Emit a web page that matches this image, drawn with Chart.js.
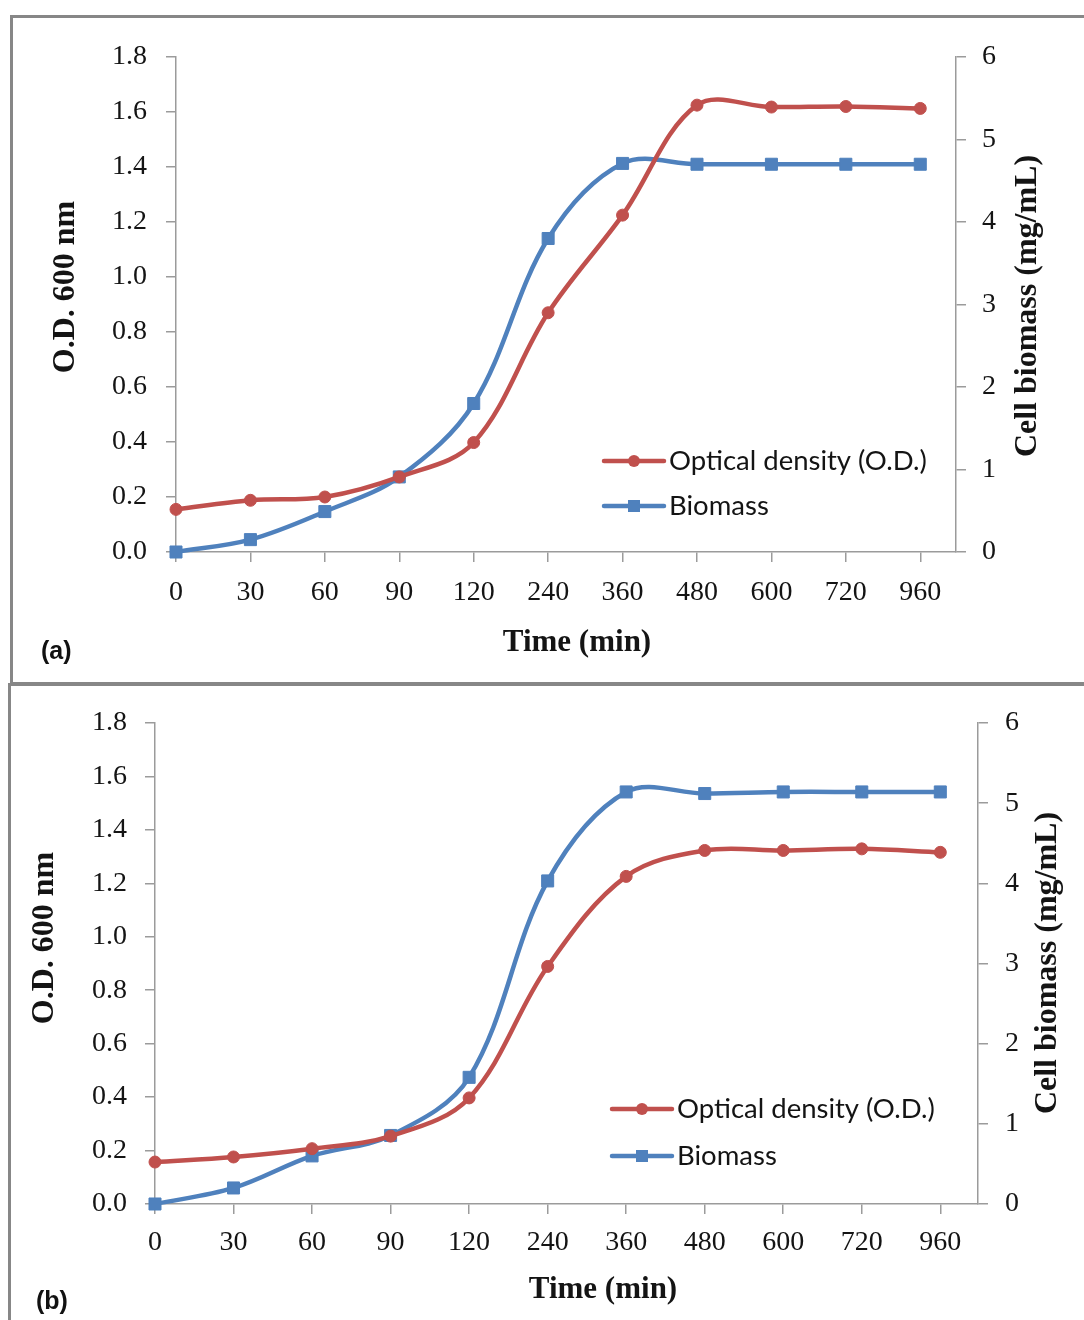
<!DOCTYPE html>
<html>
<head>
<meta charset="utf-8">
<script src="https://cdn.jsdelivr.net/npm/chart.js@4.4.1/dist/chart.umd.min.js"></script>
<style>
  body { margin:0; width:1084px; height:1320px; overflow:hidden; background:#fff; position:relative; }
  .frame { position:absolute; border:3px solid #878787; box-sizing:border-box; }
  #frameA { left:10px; top:15px; width:1100px; height:670px; }
  #frameB { left:8px; top:683px; width:1100px; height:680px; }
  .wrap { position:absolute; left:0; width:1084px; }
  #wrapA { top:0; height:683px; }
  #wrapB { top:683px; height:637px; }
  .tag { position:absolute; height:30px; line-height:30px; font-family:"Liberation Sans", sans-serif; font-weight:bold; font-size:25px; color:#111; }
</style>
</head>
<body>
<div class="frame" id="frameA"></div>
<div class="frame" id="frameB"></div>
<div class="wrap" id="wrapA"><canvas id="chartA" width="1084" height="683"></canvas></div>
<div class="wrap" id="wrapB"><canvas id="chartB" width="1084" height="637"></canvas></div>
<div class="tag" style="left:41px; top:635px;">(a)</div>
<div class="tag" style="left:36px; top:1285px;">(b)</div>
<script>
// sampling times (min), shown as evenly spaced categories
const timeLabels = ['0', '30', '60', '90', '120', '240', '360', '480', '600', '720', '960'];

// panel (a)
const odA = [0.155, 0.188, 0.200, 0.273, 0.398, 0.870, 1.225, 1.625, 1.618, 1.620, 1.613];
const biomassA = [0.00, 0.15, 0.49, 0.91, 1.80, 3.80, 4.71, 4.70, 4.70, 4.70, 4.70];

// panel (b)
const odB = [0.157, 0.176, 0.207, 0.254, 0.397, 0.889, 1.226, 1.323, 1.323, 1.329, 1.316];
const biomassB = [0.00, 0.20, 0.60, 0.855, 1.58, 4.03, 5.14, 5.12, 5.14, 5.14, 5.14];

const odMax = 1.8, odStep = 0.2;
const biomassMax = 6, biomassStep = 1;

const RED = '#C0504D';
const BLUE = '#4F81BD';
const AXIS = '#9b9b9b';
const TEXT = '#141414';
const tickFont = { family: '"Liberation Serif", "Times New Roman", serif', size: 28 };

// axis titles, legend (line + marker) drawn on top of the chart
const extras = {
	id: 'extras',
	afterDraw(chart, args, o) {
		const ctx = chart.ctx;
		ctx.save();
		ctx.fillStyle = TEXT;
		ctx.textBaseline = 'middle';
		ctx.textAlign = 'center';
		o.titles.forEach(function(t) {
			ctx.save();
			ctx.font = 'bold ' + t.size + 'px "Liberation Serif", serif';
			ctx.translate(t.x, t.y);
			ctx.rotate(t.rot);
			ctx.fillText(t.text, 0, 0);
			ctx.restore();
		});
		chart.data.datasets.forEach(function(ds, i) {
			const y = o.legendY + i * o.legendGap;
			const x = o.legendX;
			ctx.strokeStyle = ds.borderColor;
			ctx.lineWidth = 4.5;
			ctx.lineCap = 'round';
			ctx.beginPath();
			ctx.moveTo(x, y);
			ctx.lineTo(x + 60, y);
			ctx.stroke();
			ctx.fillStyle = ds.borderColor;
			if (ds.pointStyle == 'rect') {
				ctx.fillRect(x + 24, y - 6, 12, 12);
			} else {
				ctx.beginPath();
				ctx.arc(x + 30, y, 6, 0, Math.PI * 2);
				ctx.fill();
			}
			ctx.fillStyle = TEXT;
			ctx.font = '27.5px Lato, "Liberation Sans", sans-serif';
			ctx.textAlign = 'left';
			ctx.fillText(ds.label, x + 65, y);
		});
		ctx.restore();
	}
};

function toPoints(values) {
	return values.map(function(v, i) { return { x: i, y: v }; });
}

function makeChart(id, od, biomass, g) {
	return new Chart(document.getElementById(id), {
		type: 'line',
		data: {
			datasets: [{
				label: 'Optical density (O.D.)',
				data: toPoints(od),
				yAxisID: 'y',
				borderColor: RED,
				backgroundColor: RED,
				borderWidth: 4.5,
				pointStyle: 'circle',
				pointRadius: 6,
				pointBorderWidth: 1,
				tension: 0.35,
				clip: false
			}, {
				label: 'Biomass',
				data: toPoints(biomass),
				yAxisID: 'y2',
				borderColor: BLUE,
				backgroundColor: BLUE,
				borderWidth: 4.5,
				pointStyle: 'rect',
				pointRadius: 8.5,
				pointBorderWidth: 1,
				tension: 0.35,
				clip: false
			}]
		},
		options: {
			responsive: false,
			animation: false,
			layout: { padding: { top: g.top, left: 0, right: 0, bottom: 0 } },
			plugins: {
				legend: { display: false },
				tooltip: { enabled: false },
				extras: g.extras
			},
			scales: {
				x: {
					type: 'linear',
					min: 0,
					max: 10.48,
					afterBuildTicks: function(s) { s.ticks = s.ticks.filter(function(t) { return Number.isInteger(t.value); }); },
					afterFit: function(s) { s.height = g.xH; },
					ticks: {
						stepSize: 1, includeBounds: false, maxTicksLimit: 20, autoSkip: false, maxRotation: 0,
						padding: g.xPad, font: tickFont, color: TEXT,
						callback: function(v) { return timeLabels[v]; }
					},
					grid: { drawOnChartArea: false, drawTicks: true, tickLength: 10, color: AXIS, lineWidth: 1.5 },
					border: { color: AXIS, width: 1.5 }
				},
				y: {
					position: 'left',
					min: 0,
					max: odMax,
					afterFit: function(s) { s.width = g.left; },
					ticks: { stepSize: odStep, padding: g.yPad, font: tickFont, color: TEXT,
						callback: function(v) { return v.toFixed(1); } },
					grid: { drawOnChartArea: false, drawTicks: true, tickLength: 10, color: AXIS, lineWidth: 1.5 },
					border: { color: AXIS, width: 1.5 }
				},
				y2: {
					position: 'right',
					min: 0,
					max: biomassMax,
					afterFit: function(s) { s.width = g.rightW; },
					ticks: { stepSize: biomassStep, padding: g.y2Pad, font: tickFont, color: TEXT },
					grid: { drawOnChartArea: false, drawTicks: true, tickLength: 10, color: AXIS, lineWidth: 1.5 },
					border: { color: AXIS, width: 1.5 }
				}
			}
		},
		plugins: [extras]
	});
}

makeChart('chartA', odA, biomassA, {
	top: 57, left: 176, rightW: 128, xH: 131, xPad: 14, yPad: 19, y2Pad: 16,
	extras: {
		legendX: 604, legendY: 461, legendGap: 45,
		titles: [
			{ text: 'O.D. 600 nm', x: 66, y: 287, rot: -Math.PI / 2, size: 32 },
			{ text: 'Cell biomass (mg/mL)', x: 1028, y: 306, rot: -Math.PI / 2, size: 32 },
			{ text: 'Time (min)', x: 577, y: 643, rot: 0, size: 31 }
		]
	}
});

makeChart('chartB', odB, biomassB, {
	top: 40, left: 155, rightW: 106, xH: 116, xPad: 12, yPad: 18, y2Pad: 17,
	extras: {
		legendX: 612, legendY: 426, legendGap: 47,
		titles: [
			{ text: 'O.D. 600 nm', x: 45, y: 255, rot: -Math.PI / 2, size: 32 },
			{ text: 'Cell biomass (mg/mL)', x: 1048, y: 280, rot: -Math.PI / 2, size: 32 },
			{ text: 'Time (min)', x: 603, y: 607, rot: 0, size: 31 }
		]
	}
});
</script>
</body>
</html>
